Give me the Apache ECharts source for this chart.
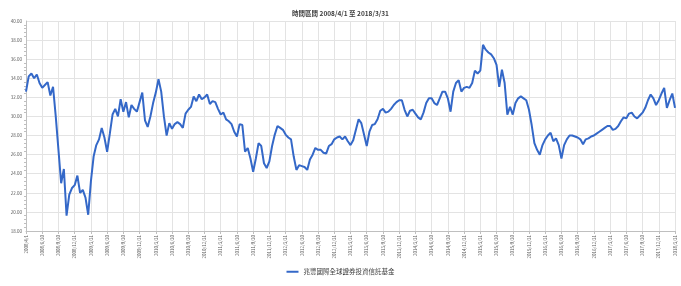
<!DOCTYPE html>
<html>
<head>
<meta charset="utf-8">
<script src="https://cdn.jsdelivr.net/npm/echarts@6/dist/echarts.min.js"></script>
<style>
  html, body { margin: 0; padding: 0; background: #fff; }
  #chart { width: 681px; height: 286px; }
</style>
</head>
<body>
<div id="chart"></div>
<script>
// NAV, one value per half month (1st, then 15th / month end), 2008/4/1 .. 2018/3/31
var nav2008 = [32.6, 34.2, 34.5, 34.0, 34.4, 33.5, 33.0, 33.3, 33.6, 32.2,
               33.1, 30.0, 26.5, 23.0, 24.5, 19.6, 21.8, 22.5, 22.8, 23.8];
var nav2009 = [22.0, 22.3, 21.5, 19.7, 23.2, 25.8, 27.0, 27.6, 28.8, 27.8,
               26.3, 28.2, 30.2, 30.8, 30.0, 31.8, 30.5, 31.5, 29.9, 31.2,
               30.8, 30.5, 31.5, 32.5];
var nav2010 = [29.6, 28.9, 30.0, 31.4, 32.5, 33.9, 32.6, 30.0, 28.0, 29.3,
               28.7, 29.2, 29.4, 29.2, 28.8, 30.3, 30.7, 31.0, 32.1, 31.6,
               32.3, 31.8, 32.0, 32.3];
var nav2011 = [31.3, 31.6, 31.5, 30.8, 30.2, 30.4, 29.7, 29.5, 29.2, 28.4,
               27.9, 29.2, 29.1, 26.3, 26.7, 25.6, 24.2, 25.6, 27.2, 26.9,
               25.1, 24.6, 25.3, 26.9];
var nav2012 = [28.1, 29.0, 28.8, 28.6, 28.1, 27.8, 27.6, 25.8, 24.4, 24.9,
               24.8, 24.7, 24.4, 25.5, 26.0, 26.7, 26.5, 26.5, 26.2, 26.1,
               26.9, 27.1, 27.6, 27.8];
var nav2013 = [27.9, 27.6, 27.9, 27.4, 27.0, 27.5, 28.6, 29.7, 29.3, 28.1,
               26.9, 28.4, 29.1, 29.2, 29.7, 30.6, 30.8, 30.4, 30.5, 30.8,
               31.2, 31.5, 31.7, 31.7];
var nav2014 = [30.7, 30.0, 30.6, 30.7, 30.3, 29.9, 29.7, 30.4, 31.4, 31.9,
               31.9, 31.4, 31.2, 31.9, 32.6, 32.6, 31.9, 30.5, 32.6, 33.5,
               33.8, 32.6, 33.0, 33.1];
var nav2015 = [33.0, 33.5, 34.8, 34.5, 34.8, 37.5, 37.0, 36.7, 36.5, 36.1,
               35.4, 33.1, 34.9, 33.5, 30.2, 31.0, 30.2, 31.4, 31.9, 32.1,
               31.9, 31.7, 30.7, 29.1];
var nav2016 = [27.2, 26.5, 26.0, 27.0, 27.6, 28.0, 28.3, 27.4, 27.7, 27.0,
               25.6, 27.0, 27.6, 28.0, 28.0, 27.9, 27.8, 27.6, 27.1, 27.6,
               27.7, 27.9, 28.0, 28.2];
var nav2017 = [28.4, 28.6, 28.8, 29.0, 29.0, 28.6, 28.7, 29.0, 29.5, 29.9,
               29.8, 30.3, 30.4, 30.0, 29.8, 30.1, 30.4, 30.9, 31.7, 32.3,
               31.9, 31.2, 31.7, 32.4, 33.0, 30.9, 31.7, 32.4, 30.9];

var navValues = [].concat(nav2008, nav2009, nav2010, nav2011, nav2012,
                          nav2013, nav2014, nav2015, nav2016, nav2017);

var tickLabels = [
  '2008/4/1', '2008/6/30', '2008/9/30', '2008/12/31',
  '2009/3/31', '2009/6/30', '2009/9/30', '2009/12/31',
  '2010/3/31', '2010/6/30', '2010/9/30', '2010/12/31',
  '2011/3/31', '2011/6/30', '2011/9/30', '2011/12/31',
  '2012/3/31', '2012/6/30', '2012/9/30', '2012/12/31',
  '2013/3/31', '2013/6/30', '2013/9/30', '2013/12/31',
  '2014/3/31', '2014/6/30', '2014/9/30', '2014/12/31',
  '2015/3/31', '2015/6/30', '2015/9/30', '2015/12/31',
  '2016/3/31', '2016/6/30', '2016/9/30', '2016/12/31',
  '2017/3/31', '2017/6/30', '2017/9/30', '2017/12/31',
  '2018/3/31'
];

var seriesName = '兆豐國際全球證券投資信託基金';
var titleText = '時間區間 2008/4/1 至 2018/3/31';

// half-month category dates; every 6th one is a quarter tick
var categories = ['2008/4/1'];
for (var m = 0; m < 120; m++) {
  var y = 2008 + Math.floor((m + 3) / 12);
  var mo = (m + 3) % 12 + 1;
  var last = new Date(y, mo, 0).getDate();
  categories.push(y + '/' + mo + '/15');
  categories.push(y + '/' + mo + '/' + last);
}

var isTick = function (idx) { return idx % 6 === 0; };
var font = 'Noto Sans CJK TC, Noto Sans, sans-serif';

var chart = echarts.init(document.getElementById('chart'));
chart.setOption({
  animation: false,
  textStyle: { fontFamily: font },
  title: {
    text: titleText,
    left: 'center',
    top: 5,
    textStyle: { fontSize: 6.5, fontWeight: 'bold', color: '#404040', fontFamily: font }
  },
  legend: {
    bottom: 6,
    left: 'center',
    itemWidth: 12,
    itemHeight: 2,
    icon: 'rect',
    textStyle: { fontSize: 6.5, color: '#404040', fontFamily: font },
    data: [seriesName]
  },
  grid: { left: 26, right: 6, top: 21, bottom: 55 },
  xAxis: {
    type: 'category',
    boundaryGap: false,
    data: categories,
    axisLine: { lineStyle: { color: '#bfbfbf' } },
    axisTick: { interval: isTick, length: 3, lineStyle: { color: '#bfbfbf' } },
    splitLine: { show: true, interval: isTick, lineStyle: { color: '#e3e3e3', width: 1 } },
    axisLabel: {
      interval: isTick,
      rotate: 90,
      fontSize: 4.5,
      color: '#595959',
      margin: 4,
      formatter: function (v, idx) { return tickLabels[idx / 6]; }
    }
  },
  yAxis: {
    type: 'value',
    min: 18,
    max: 40,
    interval: 2,
    axisLine: { show: true, lineStyle: { color: '#bfbfbf' } },
    axisTick: { show: false },
    minorTick: { show: true, splitNumber: 5, length: 2, lineStyle: { color: '#bfbfbf' } },
    splitLine: { lineStyle: { color: '#e3e3e3', width: 1 } },
    axisLabel: {
      fontSize: 4.5,
      color: '#595959',
      margin: 4,
      formatter: function (v) { return v.toFixed(2); }
    }
  },
  series: [{
    name: seriesName,
    type: 'line',
    data: navValues,
    showSymbol: false,
    lineStyle: { color: '#3468c8', width: 2 },
    itemStyle: { color: '#3468c8' }
  }]
});
</script>
</body>
</html>
